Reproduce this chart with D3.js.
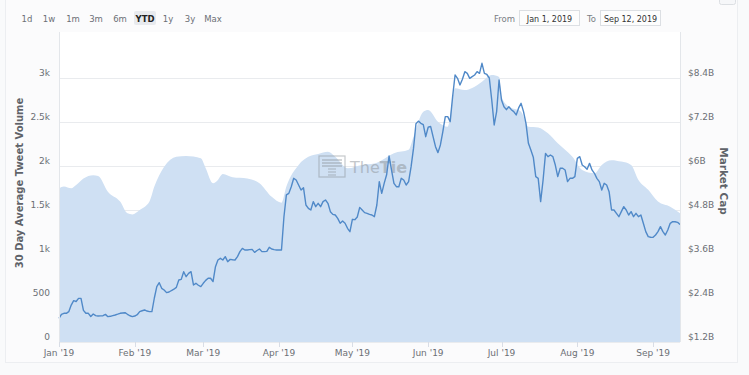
<!DOCTYPE html>
<html><head><meta charset="utf-8">
<script src="https://cdn.jsdelivr.net/npm/d3@7"></script>
<style>
html,body{margin:0;padding:0;background:#f8f9fa;}
svg{display:block;font-family:"DejaVu Sans",Verdana,sans-serif;}
</style></head>
<body><svg id="c" width="749" height="375"></svg>
<script>
// ---- data ----
const rangeButtons = ["1d","1w","1m","3m","6m","YTD","1y","3y","Max"];
const selectedButton = "YTD";
const fromLabel = "Jan 1, 2019", toLabel = "Sep 12, 2019";
const startDate = "2019-01-01", endDate = "2019-09-12";
const leftTicks = [0,500,1000,1500,2000,2500,3000];
const leftTickLabels = ["0","500","1k","1.5k","2k","2.5k","3k"];
const rightTicks = [1.2,2.4,3.6,4.8,6,7.2,8.4];
const rightTickLabels = ["$1.2B","$2.4B","$3.6B","$4.8B","$6B","$7.2B","$8.4B"];
const monthTicks = ["2019-01-01","2019-02-01","2019-03-01","2019-04-01","2019-05-01","2019-06-01","2019-07-01","2019-08-01","2019-09-01"];
const monthLabels = ["Jan '19","Feb '19","Mar '19","Apr '19","May '19","Jun '19","Jul '19","Aug '19","Sep '19"];
// daily 30-day average tweet volume, Jan 1 .. Sep 12
const tweetVolume = [
 269,315,326,326,345,420,470,460,496,496,
 360,326,326,290,318,300,295,297,299,314,
 288,292,300,307,316,326,330,333,315,298,
 288,295,310,345,355,364,352,345,345,500,
 629,674,610,591,561,568,585,600,621,705,
 712,799,742,780,799,648,667,645,629,667,
 700,724,724,686,856,932,951,932,970,913,
 939,935,932,970,1027,1064,1045,1045,1050,1053,
 1019,1040,1057,1027,1027,1030,1076,1057,1050,1045,
 1045,1045,1420,1671,1689,1765,1860,1841,1784,1727,
 1754,1557,1519,1500,1595,1538,1576,1538,1595,1614,
 1576,1481,1450,1443,1405,1349,1375,1349,1292,1254,
 1394,1390,1420,1530,1500,1470,1462,1450,1443,1424,
 1557,1822,1689,1803,1900,2114,1955,1803,1765,1765,
 1860,1841,1784,1822,1990,2200,2480,2510,2485,2470,
 2333,2440,2450,2333,2220,2152,2239,2390,2561,2561,
 2504,2788,3034,2996,2921,2985,3072,3053,2996,3015,
 3034,3072,3053,3167,3053,3040,3000,2750,2466,2618,
 2977,2750,2674,2640,2674,2640,2618,2580,2660,2712,
 2618,2485,2258,2182,2100,1879,1860,1595,1841,2144,
 2106,2125,2106,2011,1879,1974,1974,1955,1822,1860,
 1860,1879,2087,2106,2011,1992,1962,2030,1955,1917,
 1860,1822,1727,1803,1784,1708,1500,1500,1462,1424,
 1481,1538,1500,1443,1481,1424,1462,1424,1443,1349,
 1254,1197,1190,1189,1216,1254,1311,1254,1216,1273,
 1349,1367,1367,1360,1335
];
// market cap ($B)
const capDates = ["2019-01-01","2019-01-03","2019-01-06","2019-01-08","2019-01-11","2019-01-15","2019-01-17","2019-01-21","2019-01-26","2019-01-29",
 "2019-01-31","2019-02-03","2019-02-07","2019-02-09","2019-02-13","2019-02-18","2019-02-22","2019-02-28","2019-03-02","2019-03-05",
 "2019-03-07","2019-03-09","2019-03-13","2019-03-19","2019-03-24","2019-03-29","2019-04-02","2019-04-04","2019-04-09","2019-04-13",
 "2019-04-17","2019-04-21","2019-04-24","2019-04-29","2019-05-05","2019-05-10","2019-05-13","2019-05-18","2019-05-24","2019-05-26",
 "2019-05-30","2019-06-01","2019-06-05","2019-06-09","2019-06-12","2019-06-16","2019-06-19","2019-06-23","2019-06-27","2019-06-30",
 "2019-07-01","2019-07-04","2019-07-09","2019-07-12","2019-07-16","2019-07-20","2019-07-24","2019-07-30","2019-08-03","2019-08-08",
 "2019-08-11","2019-08-15","2019-08-19","2019-08-23","2019-08-26","2019-08-30","2019-09-03","2019-09-08","2019-09-12"];
const marketCap = [5.39,5.44,5.39,5.48,5.66,5.75,5.73,5.30,5.03,4.71,
 4.68,4.80,5.03,5.44,5.98,6.25,6.27,6.21,5.94,5.53,
 5.62,5.78,5.69,5.66,5.53,5.16,5.00,5.44,6.03,6.25,
 6.33,6.39,6.25,5.94,6.03,6.07,6.16,6.35,6.44,6.80,
 7.48,7.53,7.21,7.07,8.12,8.07,8.13,8.30,8.48,8.43,
 7.89,7.62,7.48,7.07,7.05,6.89,6.62,6.25,5.89,5.80,
 6.03,6.16,6.12,6.03,5.62,5.35,5.03,4.89,4.71];

// ---- chart ----
const svg = d3.select("#c");
const W = 749, H = 375;
const plot = {l:59, r:680, t:32, b:342};
const parse = d3.utcParse("%Y-%m-%d");
const t0 = parse(startDate);
const tweetData = tweetVolume.map((v,i)=>({d:d3.utcDay.offset(t0,i), v}));
const capData = capDates.map((s,i)=>({d:parse(s), v:marketCap[i]}));

const x = d3.scaleUtc().domain([t0, parse(endDate)]).range([plot.l, plot.r]);
const yL = d3.scaleLinear().domain([0,3000]).range([plot.b, 78]);
const yR = d3.scaleLinear().domain([1.2,8.4]).range([plot.b, 78]);

// card
svg.append("rect").attr("x",0).attr("y",0).attr("width",W).attr("height",H).attr("fill","#f9fafb");
svg.append("rect").attr("x",5.5).attr("y",-2).attr("width",732).attr("height",364.5)
  .attr("fill","#fbfbfc").attr("stroke","#eceef1");
// plot bg
svg.append("rect").attr("x",plot.l).attr("y",plot.t).attr("width",plot.r-plot.l).attr("height",plot.b-plot.t)
  .attr("fill","#ffffff");

// gridlines
svg.append("g").selectAll("line").data(leftTicks).join("line")
  .attr("x1",plot.l).attr("x2",plot.r).attr("y1",d=>yL(d)+0.5).attr("y2",d=>yL(d)+0.5)
  .attr("stroke","#e9ebee").attr("stroke-width",1);

// area
const area = d3.area().x(d=>x(d.d)).y0(yR(1.2)).y1(d=>yR(d.v)).curve(d3.curveMonotoneX);
svg.append("path").datum(capData).attr("d",area).attr("fill","#cfe0f3").attr("fill-opacity",1);

// watermark
const wm = svg.append("g").attr("opacity",0.5);
wm.append("rect").attr("x",319).attr("y",156).attr("width",26).attr("height",21).attr("fill","none").attr("stroke","#8d9399").attr("stroke-width",1.2);
[160,163,166].forEach(yy=>wm.append("line").attr("x1",322).attr("x2",342).attr("y1",yy).attr("y2",yy).attr("stroke","#8d9399").attr("stroke-width",1.5));
[169,172,175].forEach(yy=>wm.append("line").attr("x1",328).attr("x2",336).attr("y1",yy).attr("y2",yy).attr("stroke","#8d9399").attr("stroke-width",1.2));
const wt = wm.append("text").attr("x",350).attr("y",173).attr("font-size",16).attr("fill","#8d9399");
wt.append("tspan").attr("font-weight","normal").text("The");
wt.append("tspan").attr("font-weight","bold").text("Tie");

// line
const line = d3.line().x(d=>x(d.d)).y(d=>yL(d.v));
svg.append("path").datum(tweetData).attr("d",line).attr("fill","none")
  .attr("stroke","#5089c8").attr("stroke-width",1.4).attr("stroke-linejoin","round");

// plot border
svg.append("line").attr("x1",plot.l+0.5).attr("x2",plot.l+0.5).attr("y1",plot.t).attr("y2",plot.b).attr("stroke","#e3e6ea");
svg.append("line").attr("x1",plot.r+0.5).attr("x2",plot.r+0.5).attr("y1",plot.t).attr("y2",plot.b).attr("stroke","#e3e6ea");

// left axis labels
svg.append("g").selectAll("text").data(leftTicks).join("text")
  .attr("x",50).attr("y",d=>yL(d)-2).attr("text-anchor","end").attr("font-size",9).attr("fill","#6b6f75")
  .text((d,i)=>leftTickLabels[i]);
// right axis labels
svg.append("g").selectAll("text").data(rightTicks).join("text")
  .attr("x",688).attr("y",d=>yR(d)-2).attr("text-anchor","start").attr("font-size",9).attr("fill","#6b6f75")
  .text((d,i)=>rightTickLabels[i]);

// x axis
const mt = monthTicks.map(parse);
svg.append("g").selectAll("line").data(mt).join("line")
  .attr("x1",d=>Math.round(x(d))+0.5).attr("x2",d=>Math.round(x(d))+0.5).attr("y1",plot.b).attr("y2",plot.b+5)
  .attr("stroke","#d8dde6");
svg.append("g").selectAll("text").data(mt).join("text")
  .attr("x",d=>x(d)).attr("y",356).attr("text-anchor","middle").attr("font-size",9).attr("fill","#6b6f75")
  .text((d,i)=>monthLabels[i]);

// axis titles
svg.append("text").attr("transform",`translate(23,183) rotate(-90)`)
  .attr("text-anchor","middle").attr("font-size",10).attr("font-weight","bold").attr("fill","#5f6369")
  .text("30 Day Average Tweet Volume");
svg.append("text").attr("transform",`translate(720,181) rotate(90)`)
  .attr("text-anchor","middle").attr("font-size",10.5).attr("font-weight","bold").attr("fill","#5f6369")
  .text("Market Cap");

// range selector
const bx = [27,49,73,96,120,145,168,190,213];
const rg = svg.append("g");
rangeButtons.forEach((b,i)=>{
  if(b===selectedButton){
    rg.append("rect").attr("x",bx[i]-11).attr("y",11).attr("width",22).attr("height",14).attr("rx",2).attr("fill","#e8eaee");
  }
  rg.append("text").attr("x",bx[i]).attr("y",21.5).attr("text-anchor","middle").attr("font-size",8.5)
    .attr("font-weight",b===selectedButton?"bold":"normal").attr("fill",b===selectedButton?"#222":"#6b6f75").text(b);
});

// date inputs
svg.append("text").attr("x",494).attr("y",21.5).attr("font-size",8.5).attr("fill","#7a7e84").text("From");
svg.append("rect").attr("x",519.5).attr("y",10.5).attr("width",60).attr("height",15).attr("fill","#fdfdfd").attr("stroke","#dcdfe3");
svg.append("text").attr("x",549.5).attr("y",21.5).attr("text-anchor","middle").attr("font-size",8).attr("fill","#333").text(fromLabel);
svg.append("text").attr("x",587).attr("y",21.5).attr("font-size",8.5).attr("fill","#7a7e84").text("To");
svg.append("rect").attr("x",600.5).attr("y",10.5).attr("width",60).attr("height",15).attr("fill","#fdfdfd").attr("stroke","#dcdfe3");
svg.append("text").attr("x",630.5).attr("y",21.5).attr("text-anchor","middle").attr("font-size",8).attr("fill","#333").text(toLabel);

// menu button (partially visible)
svg.append("rect").attr("x",719.5).attr("y",-4.5).attr("width",16).attr("height",9).attr("rx",2).attr("fill","#f6f7f9").attr("stroke","#dcdfe3");
</script></body></html>
